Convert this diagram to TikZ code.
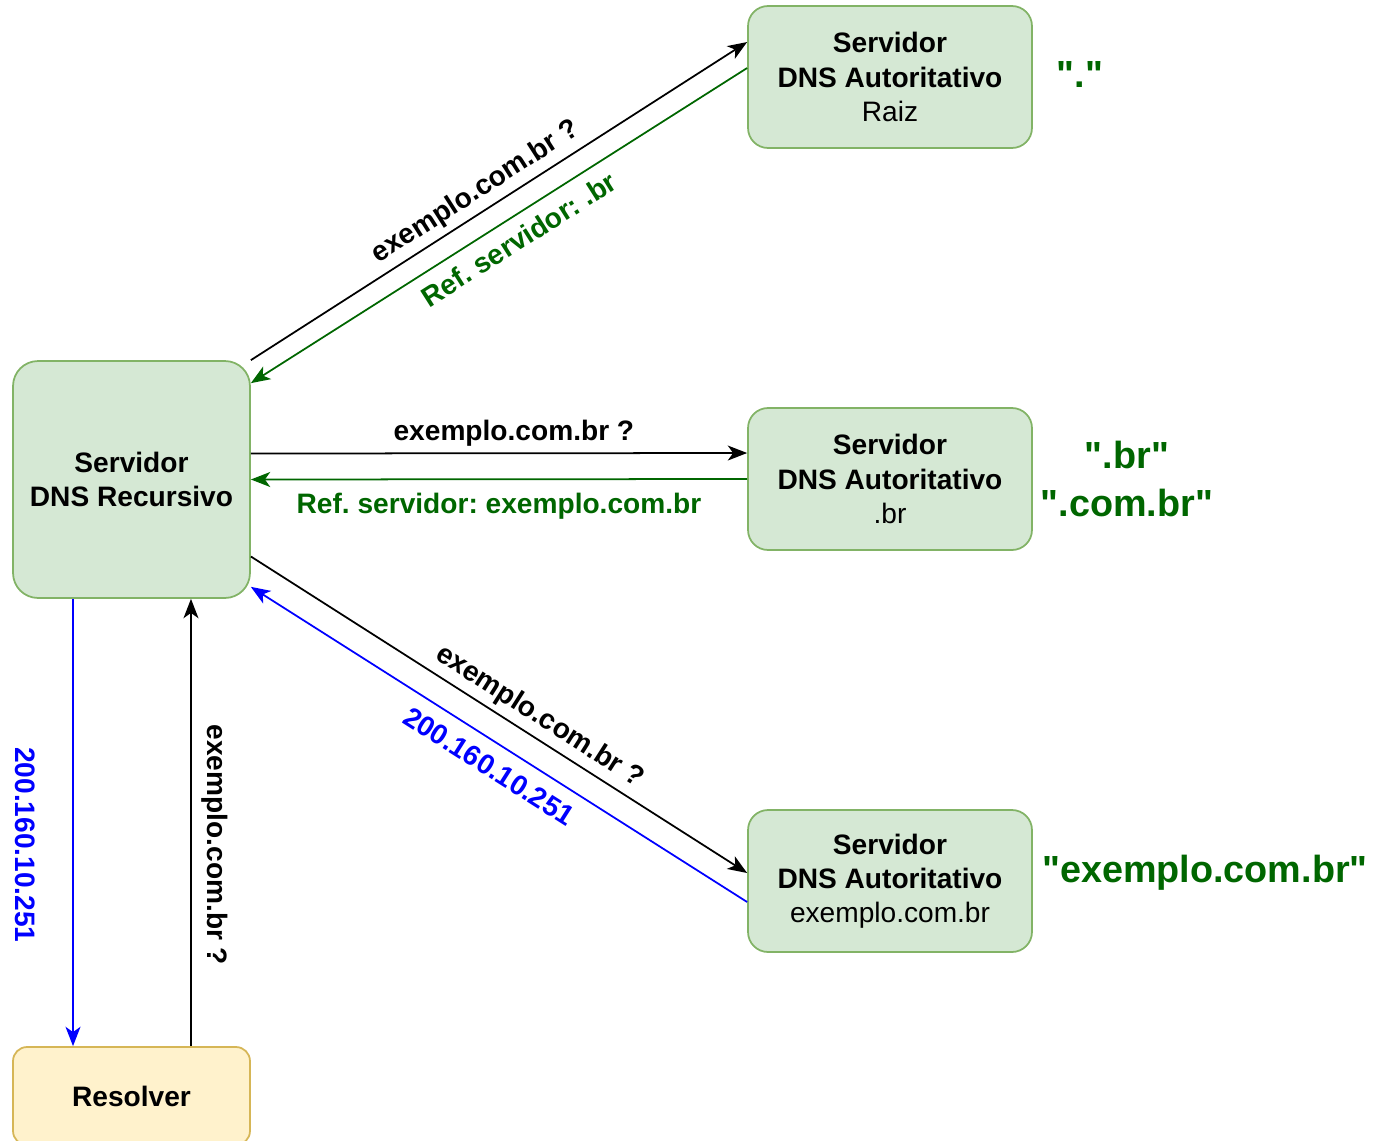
\documentclass[tikz,border=0pt]{standalone}
\usepackage{fontspec}
\setmainfont{Liberation Sans}
\usetikzlibrary{arrows.meta}
\definecolor{srvfill}{HTML}{D5E8D4}
\definecolor{srvline}{HTML}{82B366}
\definecolor{resfill}{HTML}{FFF2CC}
\definecolor{resline}{HTML}{D6B656}
\definecolor{refgreen}{HTML}{006600}
\newcommand{\dq}{\XeTeXglyph\XeTeXcharglyph 34\relax}
\frenchspacing
\begin{document}
\begin{tikzpicture}[x=0.02cm, y=-0.02cm,
    srv/.style={draw=srvline, fill=srvfill, line width=1pt, rounded corners=0.4cm,
      minimum width=5.68cm, minimum height=2.84cm, align=center,
      font={\fontsize{16}{19.5}\selectfont}},
    res/.style={draw=resline, fill=resfill, line width=1pt, rounded corners=0.28cm,
      minimum width=4.74cm, minimum height=1.96cm,
      font={\bfseries\fontsize{16}{19.5}\selectfont}},
    lbl/.style={font={\bfseries\fontsize{16}{19.5}\selectfont}},
    zone/.style={text=refgreen, align=center, font={\bfseries\fontsize{21.5}{27}\selectfont}},
    msg/.style={line width=1pt, -{Stealth[length=11pt, width=8.5pt, inset=3pt]}}]
  \useasboundingbox (0,0) rectangle (1376,1140);
  \draw
    (131.5,479.5) node[srv, minimum width=4.74cm, minimum height=4.74cm, rounded corners=0.5cm] (rec)
      {\textbf{Servidor}\\\textbf{DNS Recursivo}}
    (890,77) node[srv] (raiz) {\textbf{Servidor}\\\textbf{DNS Autoritativo}\\Raiz}
    (890,479) node[srv] (br) {\textbf{Servidor}\\\textbf{DNS Autoritativo}\\.br}
    (890,881) node[srv] (ex) {\textbf{Servidor}\\\textbf{DNS Autoritativo}\\exemplo.com.br}
    (131.5,1096) node[res] (resolver) {Resolver}
    (1080,75) node[zone] (rootzone) {\dq.\dq}
    (1127,479) node[zone] (brzone) {\dq.br\dq\\\dq.com.br\dq}
    (1205,873) node[zone] (exzone) {\dq exemplo.com.br\dq};
  \begin{scope}[msg]
    % raiz
    \draw (rec.north east) -- node[lbl, sloped, above, pos=0.475] {exemplo.com.br ?} ([yshift=0.7cm]raiz.west);
    \draw[refgreen] ([yshift=0.18cm]raiz.west) -- node[lbl, sloped, below=3pt, pos=0.484] {Ref. servidor: .br} ([yshift=-0.46cm]rec.north east);
    % .br
    \draw ([yshift=0.52cm]rec.east) -- node[lbl, above, pos=0.53] {exemplo.com.br ?} ([yshift=0.52cm]br.west);
    \draw[refgreen] (br.west) -- node[lbl, below=4pt, pos=0.5] {Ref. servidor: exemplo.com.br} (rec.east);
    % exemplo.com.br
    \draw ([yshift=-1.54cm]rec.east) -- node[lbl, sloped, above, pos=0.56] {exemplo.com.br ?} ([yshift=0.16cm]ex.west);
    \draw[blue] ([yshift=-0.42cm]ex.west) -- node[lbl, sloped, below=4pt, pos=0.494] {200.160.10.251} ([yshift=0.24cm]rec.south east);
    % resolver
    \draw[blue] ([xshift=-1.17cm]rec.south) -- node[lbl, pos=0.55, xshift=-0.96cm, rotate=-90] {200.160.10.251} ([xshift=-1.17cm]resolver.north);
    \draw ([xshift=1.19cm]resolver.north) -- node[lbl, pos=0.45, xshift=0.48cm, rotate=-90] {exemplo.com.br ?} ([xshift=1.19cm]rec.south);
  \end{scope}
\end{tikzpicture}
\end{document}
